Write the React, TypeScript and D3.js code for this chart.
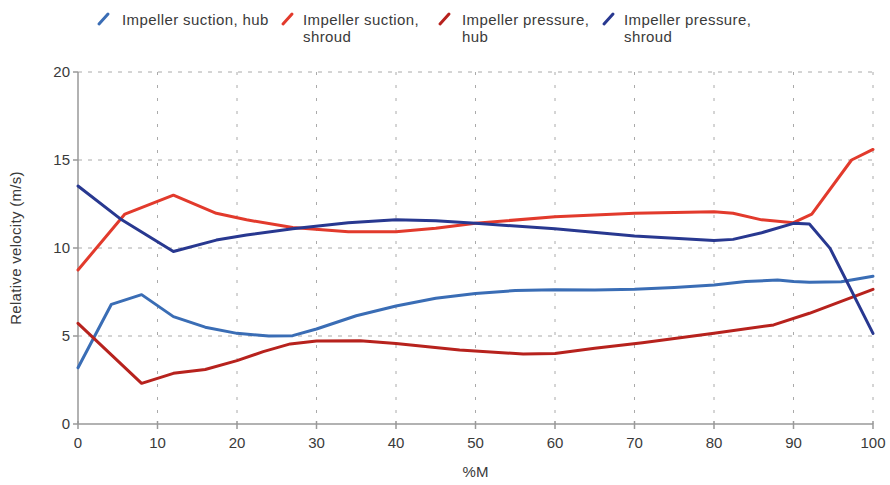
import React from "react";
import * as d3 from "d3";

// %M positions and relative velocities (m/s) for each curve
const suctionHubX = [0, 4.2, 8, 12, 16, 20, 24, 27, 30, 35, 40, 45, 50, 55, 60, 65, 70, 75, 80, 84, 88, 90, 92, 96, 100];
const suctionHubY = [3.2, 6.8, 7.35, 6.1, 5.5, 5.15, 5.0, 5.02, 5.4, 6.15, 6.7, 7.15, 7.42, 7.58, 7.63, 7.62, 7.65, 7.75, 7.9, 8.1, 8.18, 8.1, 8.05, 8.08, 8.4];

const suctionShroudX = [0, 5.9, 12, 17.4, 21.2, 27, 34, 40, 45, 50, 60, 70, 80, 82.4, 86, 90, 92.3, 97.3, 100];
const suctionShroudY = [8.75, 11.93, 13.0, 11.97, 11.6, 11.16, 10.93, 10.93, 11.12, 11.4, 11.78, 11.97, 12.06, 11.97, 11.6, 11.44, 11.93, 15.0, 15.6];

const pressureHubX = [0, 8, 12, 16, 20, 23.3, 26.7, 30, 35.5, 40, 48, 56, 60, 65, 71, 80, 87.5, 92, 100];
const pressureHubY = [5.72, 2.31, 2.88, 3.1, 3.6, 4.11, 4.55, 4.72, 4.73, 4.58, 4.2, 3.98, 4.01, 4.3, 4.62, 5.15, 5.63, 6.29, 7.65];

const pressureShroudX = [0, 5.5, 12, 17.4, 21.2, 27, 34, 40, 45, 50, 60, 70, 80, 82.4, 86, 90, 92, 94.6, 100];
const pressureShroudY = [13.52, 11.6, 9.8, 10.45, 10.74, 11.1, 11.44, 11.6, 11.55, 11.4, 11.1, 10.68, 10.42, 10.49, 10.87, 11.4, 11.36, 9.98, 5.15];

const seriesNames = ["Impeller suction, hub", "Impeller suction, shroud", "Impeller pressure, hub", "Impeller pressure, shroud"];
const legendLines = [["Impeller suction, hub"], ["Impeller suction,", "shroud"], ["Impeller pressure,", "hub"], ["Impeller pressure,", "shroud"]];
const seriesColors = ["#3a6db5", "#e23a2c", "#b7221d", "#283890"];

const xTicks = [0, 10, 20, 30, 40, 50, 60, 70, 80, 90, 100];
const yTicks = [0, 5, 10, 15, 20];

const W = 890;
const H = 485;
const M = { left: 78, right: 17, top: 72, bottom: 61 };

export default function App() {
  const x = d3.scaleLinear().domain([0, 100]).range([M.left, W - M.right]);
  const y = d3.scaleLinear().domain([0, 20]).range([H - M.bottom, M.top]);

  const series = [
    d3.zip(suctionHubX, suctionHubY),
    d3.zip(suctionShroudX, suctionShroudY),
    d3.zip(pressureHubX, pressureHubY),
    d3.zip(pressureShroudX, pressureShroudY),
  ];

  const line = d3
    .line<number[]>()
    .x((d) => x(d[0]))
    .y((d) => y(d[1]))
    .curve(d3.curveLinear);

  const legendIconX = [98, 282, 439, 603];
  const legendTextX = [122, 303, 462, 624];
  const font = "'Liberation Sans', Arial, Helvetica, sans-serif";
  const textColor = "#3a3a3a";
  const gridColor = "#aaa";
  const axisColor = "#999";

  return (
    <svg
      width={W}
      height={H}
      style={{ position: "absolute", left: 0, top: 0, background: "#fff" }}
      fontFamily={font}
    >
      {/* legend */}
      {seriesNames.map((name, i) => (
        <g key={name}>
          <line
            x1={legendIconX[i] + 1}
            y1={24}
            x2={legendIconX[i] + 10}
            y2={14}
            stroke={seriesColors[i]}
            strokeWidth={3}
            strokeLinecap="round"
          />
          {legendLines[i].map((t, j) => (
            <text
              key={t}
              x={legendTextX[i]}
              y={25 + j * 17}
              fontSize={15}
              letterSpacing={0.4}
              fill={textColor}
            >
              {t}
            </text>
          ))}
        </g>
      ))}

      {/* horizontal grid */}
      {yTicks
        .filter((t) => t > 0)
        .map((t) => (
          <line
            key={"h" + t}
            x1={x(0)}
            x2={x(100)}
            y1={y(t)}
            y2={y(t)}
            stroke={gridColor}
            strokeWidth={1}
            strokeDasharray="4,6"
          />
        ))}
      {/* vertical grid */}
      {xTicks
        .filter((t) => t > 0)
        .map((t) => (
          <line
            key={"v" + t}
            x1={x(t)}
            x2={x(t)}
            y1={y(20)}
            y2={y(0)}
            stroke={gridColor}
            strokeWidth={1}
            strokeDasharray="3,10"
          />
        ))}

      {/* axes */}
      <line x1={x(0)} x2={x(0)} y1={y(20)} y2={y(0)} stroke={axisColor} strokeWidth={1.5} />
      <line x1={x(0)} x2={x(100)} y1={y(0)} y2={y(0)} stroke={axisColor} strokeWidth={1.5} />
      {yTicks.map((t) => (
        <g key={"yt" + t}>
          <line x1={x(0) - 5} x2={x(0)} y1={y(t)} y2={y(t)} stroke={axisColor} strokeWidth={1.5} />
          <text x={x(0) - 8} y={y(t)} dy="0.35em" textAnchor="end" fontSize={15} fill={textColor}>
            {t}
          </text>
        </g>
      ))}
      {xTicks.map((t) => (
        <g key={"xt" + t}>
          <line x1={x(t)} x2={x(t)} y1={y(0) - 3} y2={y(0) + 5} stroke={axisColor} strokeWidth={1.5} />
          <text x={x(t)} y={y(0) + 24} textAnchor="middle" fontSize={15} fill={textColor}>
            {t}
          </text>
        </g>
      ))}
      <text x={(x(0) + x(100)) / 2} y={H - 8} textAnchor="middle" fontSize={15} fill={textColor}>
        %M
      </text>
      <text
        transform={`translate(21,${(y(0) + y(20)) / 2}) rotate(-90)`}
        textAnchor="middle"
        fontSize={15}
        letterSpacing={0.3}
        fill={textColor}
      >
        Relative velocity (m/s)
      </text>

      {/* curves */}
      {series.map((s, i) => (
        <path
          key={"s" + i}
          d={line(s) || ""}
          fill="none"
          stroke={seriesColors[i]}
          strokeWidth={3}
          strokeLinejoin="round"
          strokeLinecap="round"
        />
      ))}
    </svg>
  );
}
